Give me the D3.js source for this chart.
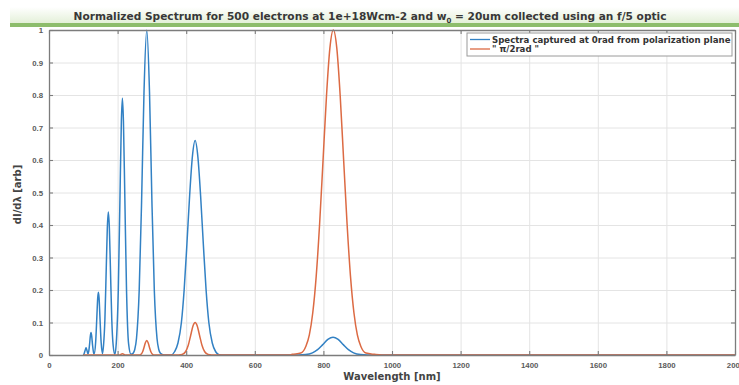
<!DOCTYPE html>
<html>
<head>
<meta charset="utf-8">
<script src="https://cdn.jsdelivr.net/npm/d3@7"></script>
<style>
  body { margin: 0; background: #fff; }
  svg { display: block; font-family: "DejaVu Sans", "Liberation Sans", Arial, sans-serif; }
  .tick text { font-size: 7.8px; font-weight: bold; fill: #5a5a5a; }
</style>
</head>
<body>
<div id="chart"></div>
<script>
// values: [wavelength nm, dI/dlambda]
var blueSpectrum = [
  [100, 0], [102, 0.003], [105, 0.013], [108, 0.022], [111, 0.013], [113.5, 0.004],
  [116, 0.012], [118, 0.03], [120.5, 0.058], [122.5, 0.069], [124.5, 0.058], [127, 0.03], [130, 0.007], [131.5, 0.003],
  [136, 0.039], [139.5, 0.117], [142, 0.175], [144, 0.193], [146, 0.175], [148.5, 0.117], [152, 0.039], [156, 0.004],
  [159, 0.03], [163, 0.11], [167, 0.27], [170, 0.39], [173, 0.44], [176, 0.39], [179, 0.27], [183, 0.11], [187, 0.03], [192, 0.002],
  [196, 0.035], [202, 0.2], [207, 0.49], [211, 0.72], [214, 0.79], [217, 0.72], [221, 0.49], [226, 0.2], [232, 0.035], [239, 0.002],
  [245, 0.005], [250, 0.017], [255, 0.05], [263, 0.2], [270, 0.475], [277, 0.81], [285, 1.0], [293, 0.81], [300, 0.475],
  [307, 0.2], [315, 0.05], [320, 0.017], [325, 0.005], [335, 0],
  [356, 0], [366, 0.01], [376, 0.037], [386, 0.1], [394, 0.2], [402, 0.34], [410, 0.49], [418, 0.61], [426, 0.66],
  [434, 0.61], [442, 0.49], [450, 0.34], [458, 0.2], [466, 0.1], [476, 0.037], [486, 0.01], [496, 0.001], [510, 0],
  [728, 0], [748, 0.0012], [768, 0.0066], [783, 0.0165], [798, 0.032], [813, 0.048], [828, 0.055], [843, 0.048],
  [858, 0.032], [873, 0.0165], [888, 0.0066], [908, 0.0012], [928, 0], [2000, 0]
];

var orangeSpectrum = [
  [100, 0], [205, 0], [214, 0.004], [223, 0],
  [263, 0], [268, 0.002], [273, 0.01], [277, 0.023], [281, 0.038], [285, 0.045], [289, 0.038], [293, 0.023], [297, 0.01], [302, 0.002], [307, 0],
  [378, 0], [388, 0.0014], [398, 0.01], [406, 0.03], [413, 0.06], [420, 0.09], [426, 0.1], [432, 0.09], [439, 0.06],
  [446, 0.03], [454, 0.01], [464, 0.0014], [474, 0],
  [700, 0], [709, 0.002], [734, 0.006], [749, 0.027], [759, 0.062], [769, 0.13], [779, 0.242], [789, 0.404], [799, 0.6],
  [809, 0.797], [819, 0.945], [829, 1.0], [839, 0.945], [849, 0.797], [859, 0.6], [869, 0.404], [879, 0.242], [889, 0.13],
  [899, 0.062], [909, 0.027], [924, 0.006], [949, 0.002], [970, 0], [2000, 0]
];

var xTicks = [0, 200, 400, 600, 800, 1000, 1200, 1400, 1600, 1800, 2000];
var yTicks = [0, 0.1, 0.2, 0.3, 0.4, 0.5, 0.6, 0.7, 0.8, 0.9, 1];
var seriesNames = ['Spectra captured at 0rad from polarization plane', '" π/2rad "'];
var seriesColors = ['#3281c4', '#dc6a43'];

var W = 739, H = 385;
var plotL = 49, plotR = 735, plotT = 30, plotB = 355;

var svg = d3.select('#chart').append('svg')
  .attr('width', W)
  .attr('height', H);

// title band
var defs = svg.append('defs');
var grad = defs.append('linearGradient')
  .attr('id', 'band')
  .attr('x1', 0).attr('y1', 0).attr('x2', 0).attr('y2', 1);
grad.append('stop').attr('offset', '0%').attr('stop-color', '#ffffff');
grad.append('stop').attr('offset', '100%').attr('stop-color', '#e2efd6');

svg.append('rect')
  .attr('x', 10).attr('y', 7)
  .attr('width', W - 10).attr('height', 17)
  .attr('fill', 'url(#band)');
svg.append('rect')
  .attr('x', 10).attr('y', 23)
  .attr('width', W - 10).attr('height', 4)
  .attr('fill', '#8dbd6c');

var title = svg.append('text')
  .attr('x', 370)
  .attr('y', 19.5)
  .attr('text-anchor', 'middle')
  .attr('font-size', '10.6px')
  .attr('font-weight', 'bold')
  .attr('fill', '#383838');
title.append('tspan').text('Normalized Spectrum for 500 electrons at 1e+18Wcm-2 and w');
title.append('tspan').attr('font-size', '7px').attr('dy', 3).text('0');
title.append('tspan').attr('dy', -3).text(' = 20um collected using an f/5 optic');

var x = d3.scaleLinear().domain([0, 2000]).range([plotL, plotR]);
var y = d3.scaleLinear().domain([0, 1]).range([plotB, plotT]);

// grid
svg.append('g')
  .attr('transform', 'translate(0,' + plotB + ')')
  .call(d3.axisBottom(x).tickValues(xTicks).tickSize(-(plotB - plotT)).tickFormat(''))
  .call(g => g.select('.domain').remove())
  .call(g => g.selectAll('line').attr('stroke', '#e4e4e4'));
svg.append('g')
  .attr('transform', 'translate(' + plotL + ',0)')
  .call(d3.axisLeft(y).tickValues(yTicks).tickSize(-(plotR - plotL)).tickFormat(''))
  .call(g => g.select('.domain').remove())
  .call(g => g.selectAll('line').attr('stroke', '#e4e4e4'));

// curves
var line = d3.line()
  .x(d => x(d[0]))
  .y(d => y(d[1]))
  .curve(d3.curveMonotoneX);

svg.append('path')
  .datum(blueSpectrum)
  .attr('d', line)
  .attr('fill', 'none')
  .attr('stroke', seriesColors[0])
  .attr('stroke-width', 1.5);

svg.append('path')
  .datum(orangeSpectrum)
  .attr('d', line)
  .attr('fill', 'none')
  .attr('stroke', seriesColors[1])
  .attr('stroke-width', 1.5);

// axes (inward ticks, boxed)
var axisColor = '#7c7c7c';
function styleAxis(g) {
  g.select('.domain').attr('stroke', axisColor).attr('stroke-width', 1.3);
  g.selectAll('.tick line').attr('stroke', axisColor).attr('stroke-width', 1.1);
}

svg.append('g')
  .attr('transform', 'translate(0,' + plotB + ')')
  .call(d3.axisBottom(x).tickValues(xTicks).tickSize(-4).tickPadding(7).tickSizeOuter(0).tickFormat(d3.format('d')))
  .call(styleAxis);

svg.append('g')
  .attr('transform', 'translate(0,' + plotT + ')')
  .call(d3.axisTop(x).tickValues(xTicks).tickSize(-4).tickSizeOuter(0).tickFormat(''))
  .call(styleAxis);

svg.append('g')
  .attr('transform', 'translate(' + plotL + ',0)')
  .call(d3.axisLeft(y).tickValues(yTicks).tickSize(-4).tickPadding(6).tickSizeOuter(0).tickFormat(d => d === 0 || d === 1 ? d3.format('d')(d) : d3.format('.1f')(d)))
  .call(styleAxis);

svg.append('g')
  .attr('transform', 'translate(' + plotR + ',0)')
  .call(d3.axisRight(y).tickValues(yTicks).tickSize(-4).tickSizeOuter(0).tickFormat(''))
  .call(styleAxis);

// axis labels
svg.append('text')
  .attr('x', (plotL + plotR) / 2)
  .attr('y', 380)
  .attr('text-anchor', 'middle')
  .attr('font-size', '10px')
  .attr('font-weight', 'bold')
  .attr('fill', '#444')
  .text('Wavelength [nm]');

svg.append('text')
  .attr('transform', 'translate(21,' + ((plotT + plotB) / 2 + 2) + ') rotate(-90)')
  .attr('text-anchor', 'middle')
  .attr('font-size', '10px')
  .attr('font-weight', 'bold')
  .attr('fill', '#444')
  .text('dI/dλ [arb]');

// legend
var legend = svg.append('g').attr('transform', 'translate(467,33)');
legend.append('rect')
  .attr('width', 265).attr('height', 23)
  .attr('fill', '#fff')
  .attr('stroke', '#9a9a9a')
  .attr('stroke-width', 1);

seriesNames.forEach(function(name, i) {
  var ly = 6.5 + i * 9.5;
  legend.append('line')
    .attr('x1', 3).attr('x2', 23)
    .attr('y1', ly).attr('y2', ly)
    .attr('stroke', seriesColors[i])
    .attr('stroke-width', 1.3);
  legend.append('text')
    .attr('x', 25).attr('y', ly + 3)
    .attr('font-size', '8.6px')
    .attr('font-weight', 'bold')
    .attr('fill', '#333')
    .text(name);
});
</script>
</body>
</html>
